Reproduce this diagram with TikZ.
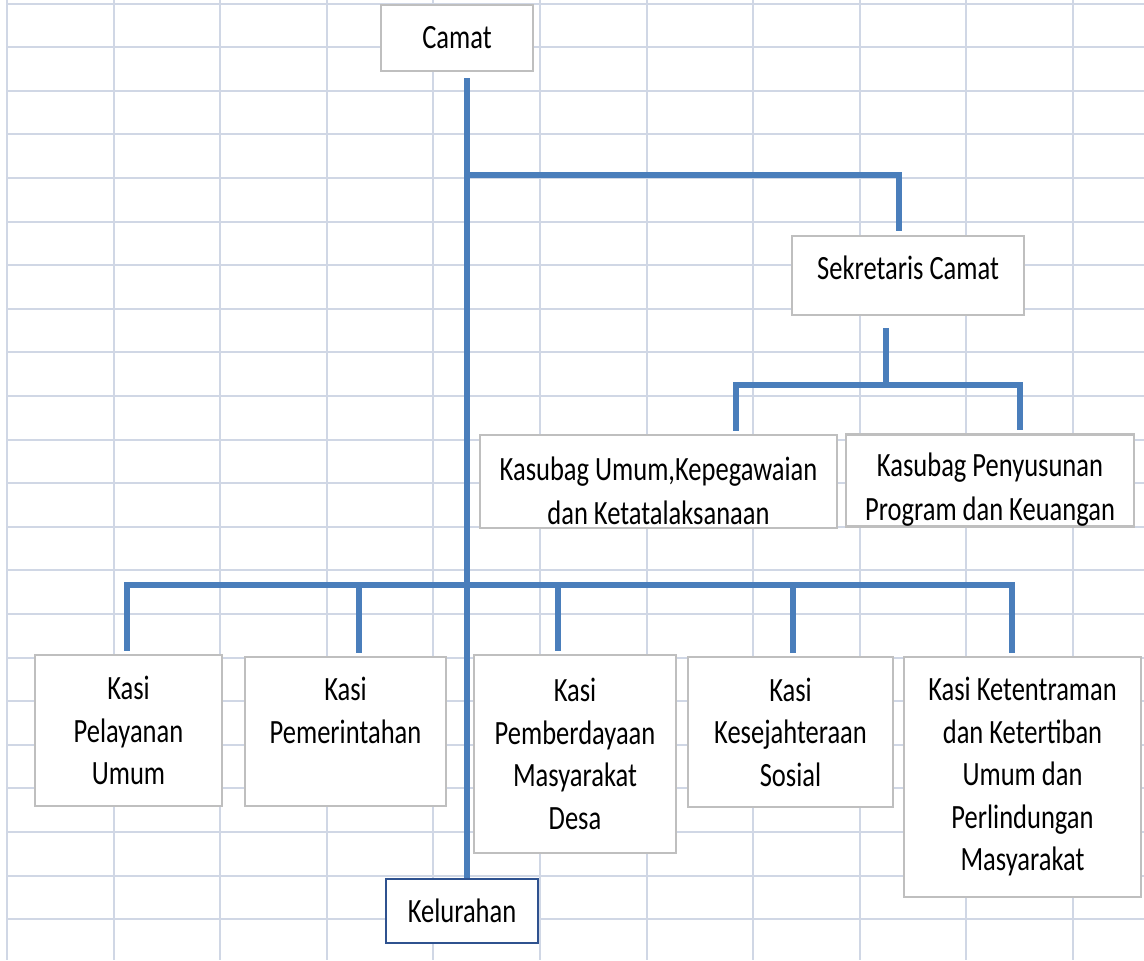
\documentclass[tikz,border=0pt]{standalone}
\usepackage{fontspec}
\setmainfont{Carlito}[FakeStretch=0.78]
\usetikzlibrary{positioning}

\definecolor{gridline}{HTML}{D0D7E5}
\definecolor{linkblue}{HTML}{4A7EBB}
\definecolor{boxgray}{HTML}{BFBFBF}
\definecolor{kelblue}{HTML}{2F528F}

% invisible struts to sit the text like the sheet does
\newcommand{\tallfirst}[1]{\rule{0pt}{#1}}
\newcommand{\deeplast}[1]{\rule[-#1]{0pt}{#1}}

\tikzset{
    gridrule/.style={draw=gridline, line width=1pt},
    link/.style={draw=linkblue, line width=3.4pt},
    box/.style={draw=boxgray, line width=1.3pt, fill=white, align=center,
        inner sep=0pt, font=\fontsize{17pt}{21.25pt}\selectfont},
    boxsize/.style 2 args={minimum width=#1*0.5pt, minimum height=#2*0.5pt},
}

\begin{document}
\begin{tikzpicture}[x=0.5pt, y=-0.5pt]
        \def\gx{106.6}
        \def\gy{43.6}
        \useasboundingbox (0,0) rectangle (1144,960);
        \fill[white] (0,0) rectangle (1144,960);

        % sheet grid
        \foreach \i in {0,...,10}
            \draw[gridrule] ({7+\gx*\i},0) -- ({7+\gx*\i},960);
        \foreach \j in {0,...,21}
            \draw[gridrule] (7,{3.5+\gy*\j}) -- (1144,{3.5+\gy*\j});

        \node[box, boxsize={152}{66}] (camat) at (457,38) {Camat};
        \node[box, boxsize={232}{79}] (sekcam) at (908,275.5) {Sekretaris Camat\deeplast{8pt}};
        \node[box, boxsize={357}{93}, font=\fontsize{17pt}{22pt}\selectfont] (kasubagumum) at (658.5,481.5) {\tallfirst{21pt}Kasubag Umum,Kepegawaian\\dan Ketatalaksanaan};
        \node[box, boxsize={288}{91}, font=\fontsize{17pt}{22pt}\selectfont] (kasubagprog) at (990,480.5) {\tallfirst{21pt}Kasubag Penyusunan\\Program dan Keuangan};
        \node[box, boxsize={187}{151}] (kasipel) at (128.5,730.5) {Kasi\\Pelayanan\\Umum};
        \node[box, boxsize={201}{149}] (kasipem) at (345.5,731.5) {Kasi\\Pemerintahan\\\mbox{}};
        \node[box, boxsize={202}{198}] (kasipmd) at (575,754) {Kasi\\Pemberdayaan\\Masyarakat\\Desa};
        \node[box, boxsize={205}{150}] (kasikesos) at (790.5,732) {Kasi\\Kesejahteraan\\Sosial};
        \node[box, boxsize={237}{240}] (kasitrantib) at (1022.5,777) {Kasi Ketentraman\\dan Ketertiban\\Umum dan\\Perlindungan\\Masyarakat};
        \node[box, draw=kelblue, boxsize={152}{64}] (kelurahan) at (462,911) {Kelurahan};

        \coordinate (trunk) at (467,585);
        \coordinate (sekjoin) at (467,175);
        \coordinate (sekx) at (899,175);
        \coordinate (subjoin) at (886,385);
        \coordinate (subleft) at (736,385);
        \coordinate (subright) at (1020,385);
        \coordinate (busleft) at (127,585);
        \coordinate (busright) at (1012,585);

        % connectors
        \draw[link, shorten <=3pt] (camat.south -| trunk) -- (kelurahan.north -| trunk);
        \draw[link, shorten >=2pt] (sekjoin) -| (sekcam.north -| sekx);
        \draw[link, shorten <=6pt] (sekcam.south -| subjoin) -- (subjoin);
        \draw[link, shorten <=1.5pt, shorten >=1.5pt] (kasubagumum.north -| subleft) -- (subleft) -- (subright) -- (kasubagprog.north -| subright);
        \draw[link, shorten <=1.5pt, shorten >=1.5pt] (kasipel.north -| busleft) -- (busleft) -- (busright) -- (kasitrantib.north -| busright);
        \foreach \x/\n in {359/kasipem, 558/kasipmd, 793/kasikesos}
            \draw[link, shorten >=1.5pt] (\x,585) -- (\n.north -| \x,585);
    \end{tikzpicture}
\end{document}
